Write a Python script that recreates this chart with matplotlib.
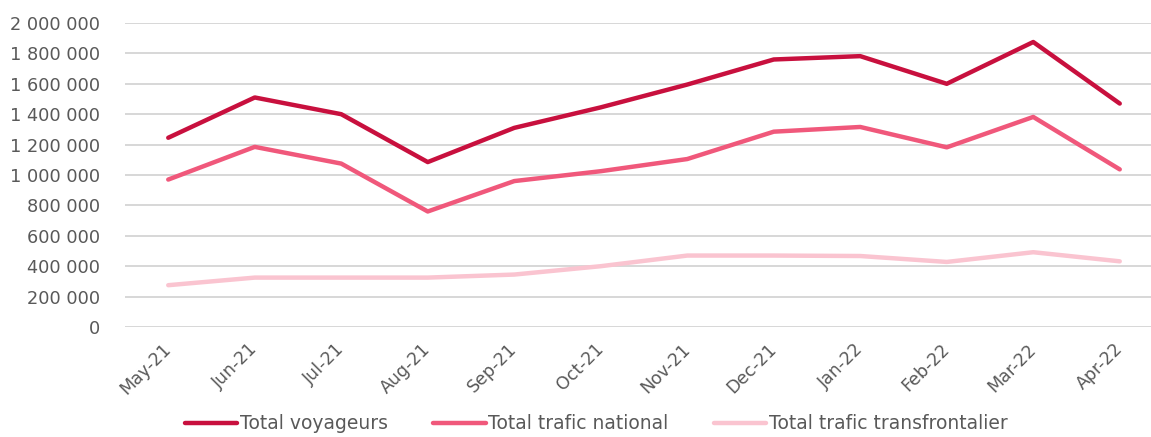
import matplotlib.pyplot as plt
import matplotlib.ticker as mticker
import numpy as np

months = ['May-21', 'Jun-21', 'Jul-21', 'Aug-21', 'Sep-21', 'Oct-21',
          'Nov-21', 'Dec-21', 'Jan-22', 'Feb-22', 'Mar-22', 'Apr-22']
voyageurs = [1245000, 1510000, 1400000, 1085000, 1310000, 1445000,
             1595000, 1760000, 1782000, 1600000, 1875000, 1470000]
national = [970000, 1185000, 1075000, 760000, 960000, 1025000,
            1105000, 1285000, 1316000, 1182000, 1382000, 1037000]
transfront = [275000, 325000, 325000, 325000, 345000, 400000,
              470000, 470000, 467000, 428000, 492000, 432000]

plt.rcParams['font.family'] = ['DejaVu Sans']
grey = '#595959'

fig = plt.figure(figsize=(11.51, 4.37), dpi=100)
ax = fig.add_axes([125 / 1151, 1 - 327 / 437, 1038 / 1151, 304 / 437])

x = np.arange(len(months))
ax.plot(x, voyageurs, color='#C8103E', lw=3.2, label='Total voyageurs', solid_capstyle='round')
ax.plot(x, national, color='#F0587B', lw=3.2, label='Total trafic national', solid_capstyle='round')
ax.plot(x, transfront, color='#FAC4D0', lw=3.2, label='Total trafic transfrontalier', solid_capstyle='round')

ax.set_xlim(-0.5, len(months) - 0.5)
ax.set_ylim(0, 2000000)
ax.yaxis.set_major_locator(mticker.MultipleLocator(200000))
ax.yaxis.set_major_formatter(mticker.FuncFormatter(lambda v, p: f'{int(v):,}'.replace(',', ' ')))
ax.grid(axis='y', color='#D4D4D4', lw=1.3)
ax.set_axisbelow(True)
for s in ax.spines.values():
    s.set_visible(False)

ax.set_xticks(x)
ax.set_xticklabels(months, rotation=45, ha='right', va='center', rotation_mode='anchor')
ax.tick_params(axis='x', length=0, pad=14, labelcolor=grey, labelsize=12.5)
ax.tick_params(axis='y', length=0, pad=18, labelcolor=grey, labelsize=12.8)

fig.legend(loc='center', bbox_to_anchor=(0.518, 0.03), ncol=3, frameon=False,
           fontsize=13.5, labelcolor=grey, handlelength=2.8, handletextpad=0.15,
           columnspacing=2.4, borderaxespad=0, borderpad=0)

fig.savefig('out.png', dpi=100)
